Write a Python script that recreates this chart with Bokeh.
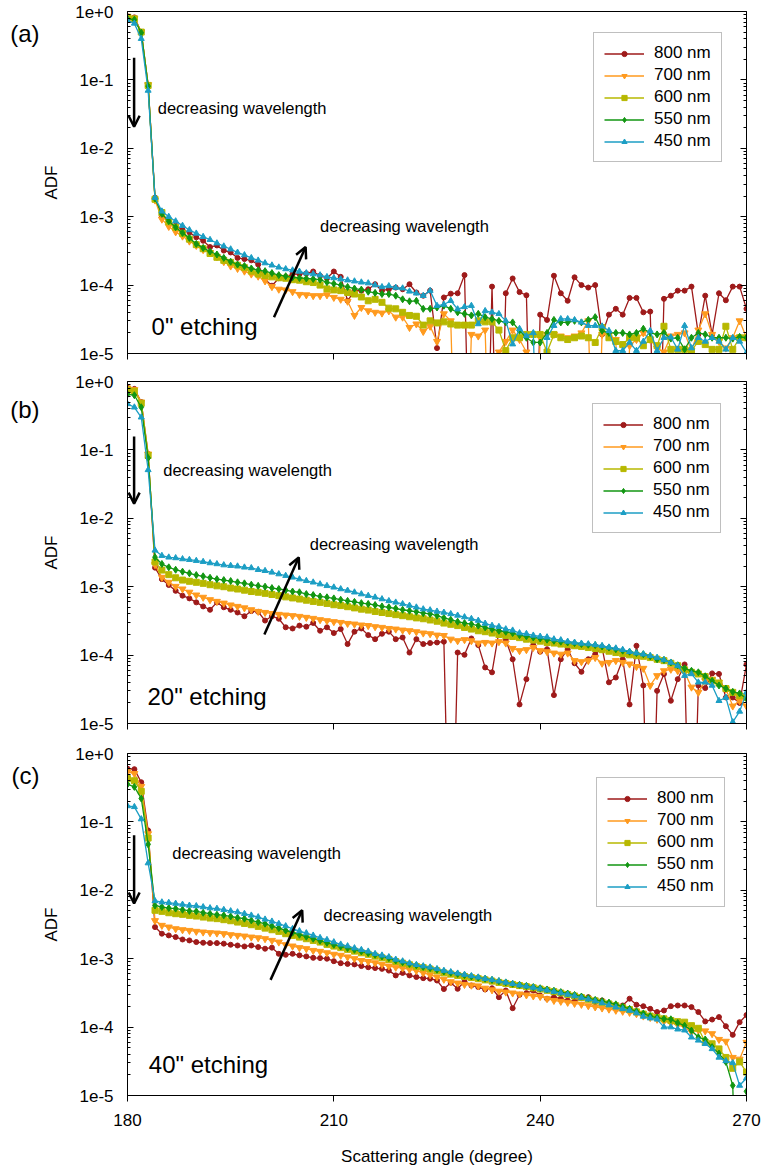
from bokeh.plotting import figure
from bokeh.layouts import column
from bokeh.models import (FixedTicker, CustomJSTickFormatter, LogAxis, Legend, LegendItem,
                          Label, Arrow, OpenHead, Range1d)
from bokeh.embed import file_html
from bokeh.resources import INLINE

Z = 1e-8  # non-positive readings: the line falls below the axis

angle = list(range(180, 271))
wavelengths = ["800 nm", "700 nm", "600 nm", "550 nm", "450 nm"]
x_ticks = [180, 210, 240, 270]
y_ticks = [1e-5, 1e-4, 1e-3, 1e-2, 1e-1, 1.0]

# ---------------- panel (a): 0" etching ----------------
a_800 = [0.85, 0.82, 0.50, 0.085, 1.9e-3, 1.04e-3, 8.2e-4, 7.4e-4, 6.4e-4, 5.9e-4,
         5.0e-4, 4.45e-4, 3.6e-4, 3.8e-4, 3.2e-4, 3.0e-4, 2.5e-4, 2.4e-4, 2.3e-4, 2.0e-4,
         1.22e-4, 9.8e-5, 1.26e-4, 1.32e-4, 1.45e-4, 1.45e-4, 1.48e-4, 1.58e-4, 1.37e-4, 1.26e-4,
         1.58e-4, 1.32e-4, 5.9e-5, 8.3e-5, 8.3e-5, 8.7e-5, 1.03e-4, 8.3e-5, 8.7e-5, 9.2e-5,
         8.7e-5, 1.03e-4, 7.8e-5, 7.0e-5, 8.3e-5, 1.2e-5, 6.6e-5, 7.5e-5, 7.6e-5, 1.4e-4,
         Z, Z, Z, 9.5e-5, Z, 7.6e-5, 1.25e-4, 7.9e-5, 7.1e-5, Z,
         3.7e-5, 3.1e-5, 1.37e-4, 7.6e-5, 5.9e-5, 1.3e-4, 1.0e-4, 9.2e-5, 1.0e-4, 1.9e-5,
         3.7e-5, 4.5e-5, 3.7e-5, 6.5e-5, 6.5e-5, 4.0e-5, 4.1e-5, Z, 6.3e-5, 7.0e-5,
         8.3e-5, 8.3e-5, 9.5e-5, 1.9e-5, 7.0e-5, 1.9e-5, 7.6e-5, 6.0e-5, 9.5e-5, 9.5e-5,
         4.5e-5]
a_700 = [0.85, 0.80, 0.50, 0.085, 1.75e-3, 9.2e-4, 7.2e-4, 6.0e-4, 5.2e-4, 4.4e-4,
         3.8e-4, 3.3e-4, 3.0e-4, 2.6e-4, 2.2e-4, 1.9e-4, 1.75e-4, 1.6e-4, 1.45e-4, 1.35e-4,
         1.15e-4, 9.5e-5, 8.7e-5, 8.5e-5, 8.0e-5, 7.3e-5, 7.2e-5, 7.0e-5, 7.0e-5, 7.2e-5,
         6.6e-5, 6.2e-5, 5.8e-5, 3.6e-5, 4.7e-5, 4.2e-5, 4.0e-5, 3.9e-5, 4.2e-5, 3.4e-5,
         3.4e-5, 2.4e-5, 2.7e-5, 2.1e-5, 2.5e-5, 1.5e-5, 3.8e-5, 3.0e-5, Z, Z,
         1.9e-5, 1.8e-5, 2.2e-5, Z, 1.05e-5, 1.5e-5, 2.2e-5, 1.6e-5, 1.05e-5, Z,
         1.7e-5, 1.9e-5, 1.9e-5, 1.8e-5, 1.7e-5, 1.8e-5, 2.0e-5, 3.0e-5, Z, 1.9e-5,
         1.9e-5, 1.6e-5, Z, 1.3e-5, 1.6e-5, 2.0e-5, 1.6e-5, 1.2e-5, 1.05e-5, 1.8e-5,
         1.9e-5, 2.0e-5, 1.1e-5, 2.2e-5, 3.8e-5, 1.9e-5, 1.5e-5, 1.2e-5, 1.7e-5, 3.0e-5,
         1.7e-5]
a_600 = [0.82, 0.78, 0.50, 0.083, 1.8e-3, 1.15e-3, 8.4e-4, 7.0e-4, 5.7e-4, 4.7e-4,
         3.9e-4, 3.4e-4, 2.9e-4, 2.55e-4, 2.3e-4, 2.15e-4, 1.95e-4, 1.8e-4, 1.6e-4, 1.45e-4,
         1.38e-4, 1.32e-4, 1.28e-4, 1.26e-4, 1.2e-4, 1.18e-4, 1.12e-4, 1.09e-4, 1.0e-4, 8.8e-5,
         8.5e-5, 8.3e-5, 7.8e-5, 7.4e-5, 6.7e-5, 5.9e-5, 6.2e-5, 5.6e-5, 4.6e-5, 4.5e-5,
         4.0e-5, 3.6e-5, 3.5e-5, 2.6e-5, 3.0e-5, 2.8e-5, 2.9e-5, 2.7e-5, 2.6e-5, 2.6e-5,
         2.6e-5, 3.0e-5, 2.9e-5, 2.9e-5, 2.2e-5, 1.1e-5, 1.7e-5, 1.7e-5, 1.9e-5, 1.9e-5,
         1.9e-5, 1.05e-5, 1.9e-5, 1.7e-5, 1.6e-5, 1.7e-5, 1.8e-5, 1.7e-5, 1.45e-5, 2.4e-5,
         1.7e-5, 1.5e-5, 1.35e-5, 1.7e-5, 1.7e-5, 1.3e-5, 1.6e-5, 1.3e-5, 2.5e-5, 1.15e-5,
         1.15e-5, 1.15e-5, 1.1e-5, 1.5e-5, 1.35e-5, 1.15e-5, 1.15e-5, 2.5e-5, 1.15e-5, 1.7e-5,
         1.7e-5]
a_550 = [0.78, 0.76, 0.49, 0.081, 1.85e-3, 1.1e-3, 8.6e-4, 7.0e-4, 5.8e-4, 4.9e-4,
         4.0e-4, 3.5e-4, 3.1e-4, 2.8e-4, 2.5e-4, 2.2e-4, 2.0e-4, 1.9e-4, 1.75e-4, 1.65e-4,
         1.6e-4, 1.5e-4, 1.4e-4, 1.35e-4, 1.3e-4, 1.27e-4, 1.25e-4, 1.23e-4, 1.2e-4, 1.1e-4,
         1.05e-4, 1.0e-4, 9.4e-5, 8.9e-5, 8.6e-5, 8.0e-5, 7.7e-5, 7.4e-5, 7.4e-5, 7.0e-5,
         6.2e-5, 5.8e-5, 5.9e-5, 4.5e-5, 4.5e-5, 4.7e-5, 5.0e-5, 4.5e-5, 4.0e-5, 3.8e-5,
         3.6e-5, 3.8e-5, 3.4e-5, 3.2e-5, 3.0e-5, 2.85e-5, 2.85e-5, 2.15e-5, 1.7e-5, 1.45e-5,
         1.45e-5, 2.0e-5, 3.1e-5, 2.85e-5, 2.85e-5, 3.0e-5, 2.85e-5, 3.1e-5, 3.4e-5, 2.15e-5,
         2.0e-5, 2.0e-5, 2.0e-5, 1.9e-5, 2.0e-5, 2.3e-5, 2.0e-5, 1.9e-5, 2.0e-5, 1.65e-5,
         1.7e-5, 1.15e-5, 1.7e-5, 2.0e-5, 1.9e-5, 1.7e-5, 1.7e-5, 1.7e-5, 1.65e-5, 1.75e-5,
         1.7e-5]
a_450 = [0.74, 0.67, 0.40, 0.07, 1.9e-3, 1.2e-3, 1.0e-3, 8.6e-4, 7.4e-4, 6.4e-4,
         5.7e-4, 5.1e-4, 4.6e-4, 4.1e-4, 3.7e-4, 3.35e-4, 3.0e-4, 2.75e-4, 2.5e-4, 2.3e-4,
         2.1e-4, 1.95e-4, 1.82e-4, 1.72e-4, 1.65e-4, 1.58e-4, 1.5e-4, 1.45e-4, 1.4e-4, 1.32e-4,
         1.27e-4, 1.22e-4, 1.18e-4, 1.14e-4, 1.1e-4, 1.07e-4, 1.0e-4, 9.4e-5, 9.7e-5, 9.2e-5,
         9.0e-5, 8.1e-5, 7.6e-5, 7.0e-5, 8.3e-5, 5.0e-5, 5.2e-5, 5.9e-5, 4.45e-5, 4.8e-5,
         5.0e-5, 2.7e-5, 4.2e-5, 4.0e-5, 3.8e-5, 3.0e-5, 1.37e-5, 2.3e-5, 1.8e-5, 2.0e-5,
         Z, 1.7e-5, 2.55e-5, 3.2e-5, 3.2e-5, 3.1e-5, 2.85e-5, 2.55e-5, 2.55e-5, 2.5e-5,
         2.15e-5, 1.1e-5, 1.1e-5, 1.45e-5, 1.1e-5, 1.5e-5, 2.15e-5, 1.1e-5, 1.7e-5, 1.73e-5,
         1.15e-5, 2.55e-5, 1.2e-5, 1.7e-5, 1.5e-5, 1.7e-5, 1.5e-5, 1.15e-5, 1.7e-5, 1.5e-5,
         1.03e-5]

# ---------------- panel (b): 20" etching ----------------
b_800 = [0.81, 0.78, 0.50, 0.087, 1.9e-3, 1.29e-3, 1.06e-3, 8.7e-4, 7.4e-4, 6.75e-4,
         5.9e-4, 5.15e-4, 4.6e-4, 5.9e-4, 5.0e-4, 4.6e-4, 4.2e-4, 3.7e-4, 4.4e-4, 4.3e-4,
         3.2e-4, 3.7e-4, 3.4e-4, 2.55e-4, 2.45e-4, 2.7e-4, 2.6e-4, 2.95e-4, 2.27e-4, 2.55e-4,
         2.1e-4, 2.4e-4, 1.45e-4, 2.2e-4, 2.45e-4, 1.96e-4, 1.71e-4, 2.05e-4, 2.2e-4, 1.71e-4,
         1.81e-4, 1.09e-4, 1.71e-4, 1.45e-4, 1.5e-4, 1.53e-4, 1.57e-4, Z, 1.09e-4, 1.01e-4,
         1.75e-4, 1.4e-4, 6.6e-5, 5.6e-5, 2.2e-4, 1.68e-4, 8.7e-5, 1.9e-5, 4.45e-5, 1.4e-4,
         1.12e-4, 1.22e-4, 2.6e-5, 8.7e-5, 1.22e-4, 7.6e-5, 5.7e-5, 8.7e-5, 1.03e-4, 1.29e-4,
         4.0e-5, 4.7e-5, 8.7e-5, 1.9e-5, 1.37e-4, 3.6e-5, Z, 3.0e-5, 5.3e-5, 2.15e-5,
         4.45e-5, 7.3e-5, Z, 3.6e-5, 3.3e-5, 5.4e-5, 5.3e-5, 2.4e-5, 2.4e-5, 2.0e-5,
         7.3e-5]
b_700 = [0.80, 0.76, 0.50, 0.087, 2.1e-3, 1.37e-3, 1.16e-3, 1.01e-3, 9.25e-4, 8.3e-4,
         7.55e-4, 7.0e-4, 6.45e-4, 6.1e-4, 5.75e-4, 5.4e-4, 5.15e-4, 4.9e-4, 4.6e-4, 4.35e-4,
         4.2e-4, 4.05e-4, 3.94e-4, 3.85e-4, 3.77e-4, 3.68e-4, 3.56e-4, 3.44e-4, 3.29e-4, 3.18e-4,
         3.08e-4, 3.0e-4, 2.9e-4, 2.84e-4, 2.75e-4, 2.7e-4, 2.6e-4, 2.54e-4, 2.45e-4, 2.4e-4,
         2.32e-4, 2.27e-4, 2.19e-4, 2.1e-4, 2.05e-4, 1.96e-4, 1.93e-4, 1.71e-4, 1.62e-4, 1.68e-4,
         1.62e-4, 1.5e-4, 1.53e-4, 1.5e-4, 1.57e-4, 1.5e-4, 1.25e-4, 1.16e-4, 1.2e-4, 1.29e-4,
         1.16e-4, 1.12e-4, 1.07e-4, 1.03e-4, 1.07e-4, 8.3e-5, 8.0e-5, 8.3e-5, 9.2e-5, 7.6e-5,
         7.8e-5, 8.3e-5, 7.8e-5, 7.4e-5, 6.8e-5, 6.4e-5, 3.6e-5, 5.0e-5, 5.9e-5, 6.2e-5,
         5.9e-5, 5.6e-5, 3.4e-5, 2.85e-5, 4.2e-5, 4.45e-5, 4.0e-5, 3.2e-5, 1.8e-5, 2.15e-5,
         1.8e-5]
b_600 = [0.75, 0.72, 0.48, 0.083, 2.3e-3, 1.75e-3, 1.5e-3, 1.35e-3, 1.25e-3, 1.2e-3,
         1.16e-3, 1.12e-3, 1.07e-3, 1.03e-3, 1.0e-3, 9.55e-4, 9.25e-4, 8.9e-4, 8.5e-4, 8.3e-4,
         8.0e-4, 7.7e-4, 7.4e-4, 7.1e-4, 6.85e-4, 6.6e-4, 6.35e-4, 6.1e-4, 5.9e-4, 5.7e-4,
         5.45e-4, 5.3e-4, 5.1e-4, 4.9e-4, 4.7e-4, 4.55e-4, 4.35e-4, 4.2e-4, 4.05e-4, 3.9e-4,
         3.77e-4, 3.64e-4, 3.5e-4, 3.4e-4, 3.26e-4, 3.13e-4, 2.94e-4, 2.82e-4, 2.7e-4, 2.54e-4,
         2.4e-4, 2.27e-4, 2.2e-4, 2.1e-4, 2.0e-4, 1.93e-4, 1.87e-4, 1.8e-4, 1.71e-4, 1.66e-4,
         1.6e-4, 1.53e-4, 1.5e-4, 1.45e-4, 1.42e-4, 1.37e-4, 1.34e-4, 1.29e-4, 1.25e-4, 1.2e-4,
         1.14e-4, 1.09e-4, 1.05e-4, 1.01e-4, 9.8e-5, 9.6e-5, 9.2e-5, 8.7e-5, 8.3e-5, 7.6e-5,
         7.0e-5, 6.1e-5, 5.6e-5, 5.3e-5, 4.85e-5, 4.2e-5, 3.9e-5, 3.25e-5, 2.85e-5, 2.55e-5,
         2.4e-5]
b_550 = [0.65, 0.63, 0.42, 0.076, 2.7e-3, 2.15e-3, 1.92e-3, 1.77e-3, 1.66e-3, 1.57e-3,
         1.48e-3, 1.42e-3, 1.35e-3, 1.29e-3, 1.25e-3, 1.21e-3, 1.16e-3, 1.12e-3, 1.07e-3, 1.03e-3,
         1.0e-3, 9.55e-4, 9.25e-4, 8.9e-4, 8.5e-4, 8.3e-4, 7.8e-4, 7.55e-4, 7.2e-4, 7.0e-4,
         6.75e-4, 6.45e-4, 6.2e-4, 6.0e-4, 5.75e-4, 5.6e-4, 5.4e-4, 5.15e-4, 5.0e-4, 4.8e-4,
         4.6e-4, 4.45e-4, 4.3e-4, 4.1e-4, 4.0e-4, 3.77e-4, 3.5e-4, 3.29e-4, 3.08e-4, 2.94e-4,
         2.84e-4, 2.7e-4, 2.54e-4, 2.4e-4, 2.27e-4, 2.19e-4, 2.1e-4, 1.96e-4, 1.88e-4, 1.81e-4,
         1.75e-4, 1.68e-4, 1.62e-4, 1.57e-4, 1.53e-4, 1.5e-4, 1.45e-4, 1.42e-4, 1.4e-4, 1.34e-4,
         1.29e-4, 1.22e-4, 1.16e-4, 1.12e-4, 1.07e-4, 1.03e-4, 9.6e-5, 8.7e-5, 8.5e-5, 7.8e-5,
         7.1e-5, 6.4e-5, 5.9e-5, 5.6e-5, 4.9e-5, 4.2e-5, 3.6e-5, 3.25e-5, 2.9e-5, 2.75e-5,
         2.3e-5]
b_450 = [0.47, 0.42, 0.30, 0.051, 3.4e-3, 2.84e-3, 2.69e-3, 2.63e-3, 2.54e-3, 2.48e-3,
         2.4e-3, 2.32e-3, 2.22e-3, 2.15e-3, 2.07e-3, 2.03e-3, 1.99e-3, 1.92e-3, 1.88e-3, 1.77e-3,
         1.71e-3, 1.62e-3, 1.53e-3, 1.45e-3, 1.37e-3, 1.29e-3, 1.22e-3, 1.16e-3, 1.09e-3, 1.03e-3,
         9.8e-4, 9.25e-4, 8.8e-4, 8.3e-4, 7.8e-4, 7.4e-4, 7.0e-4, 6.6e-4, 6.2e-4, 5.9e-4,
         5.6e-4, 5.3e-4, 5.0e-4, 4.7e-4, 4.55e-4, 4.35e-4, 4.2e-4, 4.0e-4, 3.8e-4, 3.6e-4,
         3.4e-4, 3.2e-4, 2.9e-4, 2.7e-4, 2.6e-4, 2.4e-4, 2.3e-4, 2.1e-4, 2.05e-4, 1.94e-4,
         1.87e-4, 1.83e-4, 1.71e-4, 1.66e-4, 1.58e-4, 1.53e-4, 1.48e-4, 1.45e-4, 1.41e-4, 1.37e-4,
         1.3e-4, 1.26e-4, 1.2e-4, 1.12e-4, 1.07e-4, 1.03e-4, 9.8e-5, 9.2e-5, 8.5e-5, 7.8e-5,
         7.0e-5, 5.0e-5, 5.3e-5, 4.0e-5, 4.0e-5, 3.6e-5, 2.15e-5, 2.4e-5, 1.05e-5, 1.5e-5,
         2.85e-5]

# ---------------- panel (c): 40" etching ----------------
c_800 = [0.60, 0.59, 0.38, 0.075, 2.9e-3, 2.32e-3, 2.19e-3, 2.07e-3, 1.91e-3, 1.85e-3,
         1.75e-3, 1.71e-3, 1.69e-3, 1.69e-3, 1.66e-3, 1.6e-3, 1.56e-3, 1.51e-3, 1.56e-3, 1.48e-3,
         1.4e-3, 1.45e-3, 1.18e-3, 1.14e-3, 1.18e-3, 1.12e-3, 1.08e-3, 1.03e-3, 1.02e-3, 1.0e-3,
         9.2e-4, 8.6e-4, 8.4e-4, 8.25e-4, 7.8e-4, 7.5e-4, 7.3e-4, 7.1e-4, 6.7e-4, 5.7e-4,
         6.2e-4, 5.7e-4, 5.4e-4, 5.2e-4, 5.1e-4, 4.8e-4, 3.6e-4, 4.45e-4, 3.63e-4, 4.65e-4,
         4.06e-4, 3.85e-4, 3.55e-4, 3.7e-4, 2.74e-4, 3.43e-4, 1.89e-4, 2.97e-4, 3.14e-4, 3.43e-4,
         2.9e-4, 2.6e-4, 2.74e-4, 2.6e-4, 2.45e-4, 2.37e-4, 2.65e-4, 2.74e-4, 2.32e-4, 2.45e-4,
         2.19e-4, 2.07e-4, 2.07e-4, 2.6e-4, 2.12e-4, 2.02e-4, 1.85e-4, 1.66e-4, 1.75e-4, 2.02e-4,
         2.07e-4, 2.07e-4, 1.96e-4, 1.66e-4, 1.21e-4, 1.29e-4, 1.4e-4, 1.03e-4, 7.7e-5, 1.18e-4,
         1.5e-4]
c_700 = [0.54, 0.51, 0.33, 0.067, 3.6e-3, 3.07e-3, 2.9e-3, 2.74e-3, 2.65e-3, 2.59e-3,
         2.51e-3, 2.45e-3, 2.4e-3, 2.37e-3, 2.32e-3, 2.24e-3, 2.19e-3, 2.14e-3, 2.07e-3, 2.02e-3,
         1.96e-3, 1.85e-3, 1.75e-3, 1.6e-3, 1.53e-3, 1.45e-3, 1.4e-3, 1.32e-3, 1.28e-3, 1.22e-3,
         1.16e-3, 1.12e-3, 1.06e-3, 1.0e-3, 9.4e-4, 9.1e-4, 8.7e-4, 8.25e-4, 7.8e-4, 7.5e-4,
         7.3e-4, 7.0e-4, 6.7e-4, 6.2e-4, 5.8e-4, 5.4e-4, 5.0e-4, 4.6e-4, 4.4e-4, 4.2e-4,
         4.1e-4, 4.0e-4, 3.7e-4, 3.5e-4, 3.35e-4, 3.25e-4, 3.15e-4, 3.05e-4, 2.95e-4, 2.85e-4,
         2.8e-4, 2.6e-4, 2.45e-4, 2.38e-4, 2.3e-4, 2.22e-4, 2.15e-4, 2.05e-4, 1.97e-4, 1.9e-4,
         1.83e-4, 1.76e-4, 1.7e-4, 1.64e-4, 1.57e-4, 1.45e-4, 1.38e-4, 1.3e-4, 1.22e-4, 1.15e-4,
         1.08e-4, 1.0e-4, 8.5e-5, 9.0e-5, 8.8e-5, 8.0e-5, 6.6e-5, 6.2e-5, 3.6e-5, 3.4e-5,
         6.0e-5]
c_600 = [0.43, 0.40, 0.28, 0.058, 5.1e-3, 4.92e-3, 4.7e-3, 4.55e-3, 4.45e-3, 4.3e-3,
         4.2e-3, 4.06e-3, 3.93e-3, 3.85e-3, 3.72e-3, 3.59e-3, 3.43e-3, 3.28e-3, 3.14e-3, 2.97e-3,
         2.8e-3, 2.65e-3, 2.51e-3, 2.32e-3, 2.19e-3, 2.07e-3, 1.96e-3, 1.85e-3, 1.75e-3, 1.62e-3,
         1.53e-3, 1.45e-3, 1.37e-3, 1.29e-3, 1.22e-3, 1.16e-3, 1.09e-3, 1.03e-3, 9.75e-4, 9.1e-4,
         8.6e-4, 8.15e-4, 7.7e-4, 7.4e-4, 7.05e-4, 6.65e-4, 6.2e-4, 5.95e-4, 5.7e-4, 5.5e-4,
         5.3e-4, 5.1e-4, 4.9e-4, 4.7e-4, 4.5e-4, 4.35e-4, 4.2e-4, 4.05e-4, 3.9e-4, 3.75e-4,
         3.6e-4, 3.45e-4, 3.3e-4, 3.15e-4, 3.0e-4, 2.85e-4, 2.7e-4, 2.55e-4, 2.42e-4, 2.3e-4,
         2.18e-4, 2.05e-4, 1.92e-4, 1.8e-4, 1.67e-4, 1.55e-4, 1.45e-4, 1.38e-4, 1.32e-4, 1.25e-4,
         1.2e-4, 1.18e-4, 1.05e-4, 9.6e-5, 6.0e-5, 5.7e-5, 4.8e-5, 3.6e-5, 2.5e-5, 3.1e-5,
         2.2e-5]
c_550 = [0.355, 0.325, 0.22, 0.047, 6.0e-3, 5.7e-3, 5.5e-3, 5.4e-3, 5.2e-3, 5.0e-3,
         4.92e-3, 4.7e-3, 4.55e-3, 4.4e-3, 4.3e-3, 4.15e-3, 3.97e-3, 3.85e-3, 3.63e-3, 3.43e-3,
         3.25e-3, 3.0e-3, 2.8e-3, 2.59e-3, 2.4e-3, 2.24e-3, 2.1e-3, 1.96e-3, 1.83e-3, 1.71e-3,
         1.6e-3, 1.51e-3, 1.43e-3, 1.35e-3, 1.28e-3, 1.21e-3, 1.14e-3, 1.08e-3, 1.02e-3, 9.4e-4,
         8.9e-4, 8.4e-4, 8.0e-4, 7.6e-4, 7.3e-4, 6.9e-4, 6.5e-4, 6.25e-4, 6.0e-4, 5.75e-4,
         5.5e-4, 5.3e-4, 5.1e-4, 4.9e-4, 4.7e-4, 4.5e-4, 4.3e-4, 4.15e-4, 4.0e-4, 3.85e-4,
         3.7e-4, 3.55e-4, 3.4e-4, 3.25e-4, 3.1e-4, 2.95e-4, 2.8e-4, 2.65e-4, 2.5e-4, 2.4e-4,
         2.28e-4, 2.15e-4, 2.0e-4, 1.85e-4, 1.7e-4, 1.58e-4, 1.45e-4, 1.38e-4, 1.32e-4, 1.3e-4,
         1.15e-4, 1.05e-4, 8.9e-5, 7.1e-5, 6.6e-5, 5.1e-5, 4.1e-5, 3.1e-5, 1.4e-5, Z,
         1.15e-5]
c_450 = [0.171, 0.166, 0.11, 0.025, 7.0e-3, 6.7e-3, 6.6e-3, 6.4e-3, 6.2e-3, 6.0e-3,
         5.9e-3, 5.7e-3, 5.5e-3, 5.4e-3, 5.2e-3, 4.97e-3, 4.8e-3, 4.55e-3, 4.3e-3, 4.06e-3,
         3.76e-3, 3.51e-3, 3.25e-3, 3.0e-3, 2.74e-3, 2.54e-3, 2.37e-3, 2.19e-3, 2.02e-3, 1.89e-3,
         1.75e-3, 1.62e-3, 1.53e-3, 1.43e-3, 1.35e-3, 1.28e-3, 1.18e-3, 1.12e-3, 1.06e-3, 9.75e-4,
         9.2e-4, 8.6e-4, 8.15e-4, 7.8e-4, 7.5e-4, 7.1e-4, 6.7e-4, 6.4e-4, 6.1e-4, 5.85e-4,
         5.6e-4, 5.35e-4, 5.1e-4, 4.9e-4, 4.7e-4, 4.5e-4, 4.3e-4, 4.1e-4, 3.95e-4, 3.8e-4,
         3.6e-4, 3.45e-4, 3.3e-4, 3.15e-4, 3.0e-4, 2.85e-4, 2.7e-4, 2.55e-4, 2.4e-4, 2.25e-4,
         2.1e-4, 1.95e-4, 1.85e-4, 1.75e-4, 1.6e-4, 1.43e-4, 1.35e-4, 1.3e-4, 1.0e-4, 1.0e-4,
         9.3e-5, 9.0e-5, 7.1e-5, 6.4e-5, 5.7e-5, 4.8e-5, 3.6e-5, 3.2e-5, 3.0e-5, 1.4e-5,
         1.8e-5]

for s in (a_800, a_700, a_600, a_550, a_450, b_800, b_700, b_600, b_550, b_450,
          c_800, c_700, c_600, c_550, c_450):
    assert len(s) == len(angle), len(s)

FONT = "Liberation Sans"
COLORS = ["#9E1A1A", "#FF9A1E", "#B7B800", "#129612", "#1C9EC4"]
MARKERS = ["circle", "inverted_triangle", "square", "diamond", "triangle"]
MSIZE = [5, 7, 6, 7, 6]


def yfmt():
    return CustomJSTickFormatter(code="""
        const e = Math.round(Math.log10(tick));
        return '1e' + (e >= 0 ? '+' : '') + e;
    """)


def blank_fmt():
    return CustomJSTickFormatter(code="return '';")


def y_ticker():
    minors = [m * 10.0 ** e for e in range(-5, 0) for m in range(2, 10)]
    return FixedTicker(ticks=y_ticks, minor_ticks=minors)


def panel(series, tag, etch, arrow_dn, text1, arrow_up, text2, etch_pos, tag_y,
          legend_loc, border_top, border_bottom, last):
    p = figure(frame_width=619, frame_height=342,
               x_range=Range1d(180, 270), y_range=Range1d(1e-5, 1.0),
               y_axis_type="log", output_backend="svg", toolbar_location=None,
               min_border_left=127, min_border_right=18,
               min_border_top=border_top, min_border_bottom=border_bottom,
               background_fill_color="white", border_fill_color="white")
    p.xgrid.visible = False
    p.ygrid.visible = False
    p.outline_line_color = "black"
    p.outline_line_width = 1

    # x axis
    xa = p.xaxis[0]
    xa.ticker = FixedTicker(ticks=x_ticks, minor_ticks=[])
    xa.major_tick_out = 6
    xa.major_tick_in = 0
    xa.minor_tick_out = 0
    xa.minor_tick_in = 0
    xa.axis_line_color = "black"
    xa.major_tick_line_color = "black"
    if last:
        xa.major_label_text_font = FONT
        xa.major_label_text_font_size = "17px"
        xa.major_label_text_color = "black"
        xa.major_label_standoff = 12
        xa.axis_label = "Scattering angle (degree)"
        xa.axis_label_text_font = FONT
        xa.axis_label_text_font_size = "17px"
        xa.axis_label_text_font_style = "normal"
        xa.axis_label_text_color = "black"
        xa.axis_label_standoff = 18
    else:
        xa.formatter = blank_fmt()
        xa.major_label_text_font_size = "1px"
        xa.major_label_standoff = 0

    # y axis (left)
    ya = p.yaxis[0]
    ya.ticker = y_ticker()
    ya.formatter = yfmt()
    ya.major_tick_in = 6
    ya.major_tick_out = 0
    ya.minor_tick_in = 3
    ya.minor_tick_out = 0
    ya.axis_line_color = "black"
    ya.major_tick_line_color = "black"
    ya.minor_tick_line_color = "black"
    ya.major_label_text_font = FONT
    ya.major_label_text_font_size = "17px"
    ya.major_label_text_color = "black"
    ya.major_label_standoff = 14
    ya.axis_label = "ADF"
    ya.axis_label_text_font = FONT
    ya.axis_label_text_font_size = "17px"
    ya.axis_label_text_font_style = "normal"
    ya.axis_label_text_color = "black"
    ya.axis_label_standoff = 11

    # panel tag "(a)" etc. in the left margin, carried by a bare outer axis
    tag_axis = LogAxis(ticker=FixedTicker(ticks=[tag_y], minor_ticks=[]),
                       formatter=CustomJSTickFormatter(code="return '%s';" % tag),
                       axis_line_color=None, major_tick_line_color=None,
                       minor_tick_line_color=None, major_tick_in=0, major_tick_out=0,
                       minor_tick_in=0, minor_tick_out=0, major_label_standoff=0,
                       major_label_text_font=FONT, major_label_text_font_size="24px",
                       major_label_text_color="black")
    p.add_layout(tag_axis, "left")

    # mirrored right axis with inward ticks
    ra = LogAxis(ticker=y_ticker(), formatter=blank_fmt(), major_tick_in=6, major_tick_out=0,
                 minor_tick_in=3, minor_tick_out=0, major_label_text_font_size="1px",
                 major_label_standoff=0, axis_line_color="black")
    p.add_layout(ra, "right")

    items = []
    for ys, name, col, mk, ms in zip(series, wavelengths, COLORS, MARKERS, MSIZE):
        lr = p.line(angle, ys, line_color=col, line_width=1.3)
        sr = p.scatter(angle, ys, marker=mk, size=ms, fill_color=col, line_color=col)
        items.append(LegendItem(label=name, renderers=[lr, sr]))

    leg = Legend(items=items, location=legend_loc, label_text_font=FONT,
                 label_text_font_size="17px", label_text_color="black",
                 glyph_width=40, glyph_height=13, label_height=20, spacing=2,
                 padding=10, margin=0, label_standoff=10,
                 border_line_color="#7f7f7f", border_line_width=1,
                 background_fill_color="white", background_fill_alpha=1.0)
    p.add_layout(leg)

    head = dict(size=11, line_width=2.5, line_color="black")
    p.add_layout(Arrow(end=OpenHead(**head), x_start=arrow_dn[0], y_start=arrow_dn[1],
                       x_end=arrow_dn[0], y_end=arrow_dn[2], line_width=2.5, line_color="black"))
    p.add_layout(Arrow(end=OpenHead(**head), x_start=arrow_up[0], y_start=arrow_up[1],
                       x_end=arrow_up[2], y_end=arrow_up[3], line_width=2.5, line_color="black"))

    for (tx, ty) in (text1, text2):
        p.add_layout(Label(x=tx, y=ty, text="decreasing wavelength", text_font=FONT,
                           text_font_size="16.5px", text_color="black",
                           text_baseline="middle", text_align="left"))
    p.add_layout(Label(x=etch_pos[0], y=etch_pos[1], text=etch, text_font=FONT,
                       text_font_size="24px", text_color="black",
                       text_baseline="middle", text_align="left"))
    return p


pa = panel([a_800, a_700, a_600, a_550, a_450], "(a)", '0" etching',
           (180.96, 0.21, 0.0207), (184.4, 0.039), (201.3, 3.4e-5, 205.9, 3.6e-4),
           (208.0, 7.4e-4), (183.5, 2.5e-5), 0.477, (466, 191), 11, 17, False)
pb = panel([b_800, b_700, b_600, b_550, b_450], "(b)", '20" etching',
           (180.96, 0.157, 0.0164), (185.2, 0.0515), (199.9, 2.0e-4, 204.9, 2.68e-3),
           (206.5, 4.26e-3), (182.9, 2.45e-5), 0.39, (465, 190), 11, 17, False)
pc = panel([c_800, c_700, c_600, c_550, c_450], "(c)", '40" etching',
           (180.96, 0.064, 6.4e-3), (186.5, 0.035), (200.8, 4.9e-4, 205.4, 5.1e-3),
           (208.5, 4.3e-3), (183.1, 2.84e-5), 0.48, (469, 188), 13, 76, True)

layout = column(pa, pb, pc, spacing=0)
open("out.html", "w").write(file_html(layout, INLINE))
